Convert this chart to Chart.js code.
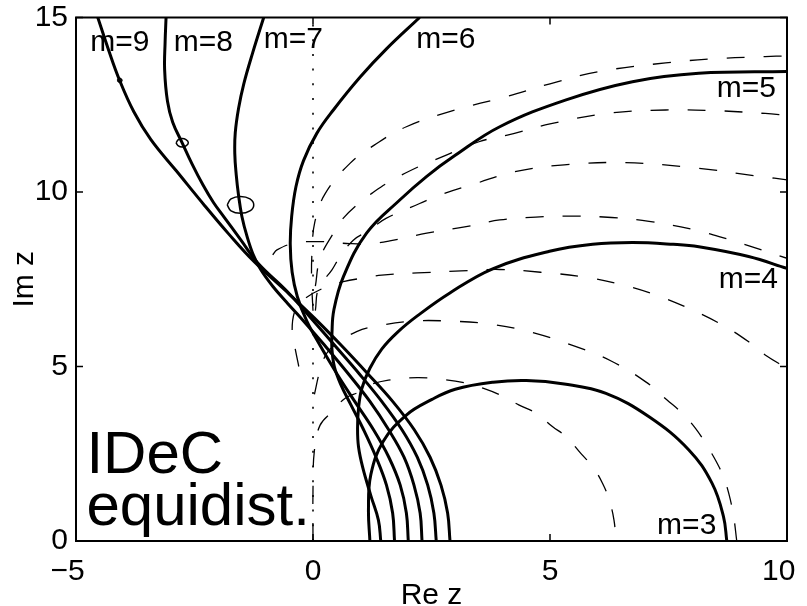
<!DOCTYPE html>
<html>
<head>
<meta charset="utf-8">
<title>IDeC equidist.</title>
<script src="https://cdn.jsdelivr.net/npm/chart.js@4.4.0/dist/chart.umd.min.js"></script>
<style>
  html, body { margin: 0; padding: 0; background: #fff; }
  #wrap { width: 807px; height: 606px; }
</style>
</head>
<body>
<div id="wrap"><canvas id="idecChart" width="807" height="606"></canvas></div>
<script>
// tick values of both axes
const xTicks = [-5, 0, 5, 10];
const yTicks = [0, 5, 10, 15];

// solid boundaries, [Re z, Im z]
const m3 = [[1.20,0],[1.17,0.9],[1.22,1.9],[1.48,2.85],[1.97,3.61],[2.5,4.05],[3.0,4.35],[3.8,4.55],[4.5,4.6],[5.3,4.5],[6.18,4.23],[7.09,3.56],[7.93,2.61],[8.42,1.65],[8.66,0.70],[8.73,0]];
const m4 = [[1.43,0],[1.38,0.6],[1.22,1.3],[1.05,2.1],[0.96,2.7],[0.94,3.23],[0.96,3.8],[1.03,4.37],[1.2,4.95],[1.45,5.5],[1.78,5.98],[2.2,6.45],[2.88,7.1],[3.79,7.8],[4.99,8.3],[5.9,8.5],[6.74,8.55],[7.6,8.5],[8.14,8.43],[9.19,8.15],[10,7.81]];
const m5 = [[1.72,0],[1.68,0.8],[1.55,1.6],[1.33,2.4],[1.07,3.18],[0.8,3.9],[0.58,4.5],[0.45,5.0],[0.40,5.5],[0.40,5.95],[0.44,6.62],[0.64,7.57],[1.13,8.82],[1.83,9.77],[2.4,10.45],[3.0,11.05],[3.94,11.87],[5.34,12.64],[6.74,13.16],[8.14,13.4],[10,13.45]];
const m6 = [[2.01,0],[1.97,0.8],[1.84,1.6],[1.6,2.4],[1.28,3.18],[0.88,4.0],[0.5,4.8],[0.15,5.6],[-0.13,6.3],[-0.33,7.0],[-0.44,7.7],[-0.48,8.5],[-0.45,9.3],[-0.36,10.15],[-0.2,10.9],[0.08,11.68],[0.43,12.35],[1.0,13.3],[1.55,14.1],[2.25,15]];
const m7 = [[2.30,0],[2.26,0.8],[2.13,1.6],[1.92,2.4],[1.60,3.18],[1.2,4.0],[0.74,4.8],[0.25,5.6],[-0.26,6.4],[-0.53,6.8],[-0.85,7.3],[-1.1,7.77],[-1.26,8.2],[-1.39,8.72],[-1.5,9.3],[-1.57,9.9],[-1.62,10.5],[-1.65,11.1],[-1.64,11.7],[-1.57,12.4],[-1.46,13.1],[-1.27,14.0],[-1.04,15]];
const m8 = [[2.60,0],[2.55,0.8],[2.42,1.6],[2.20,2.4],[1.88,3.18],[1.45,4.0],[0.97,4.8],[0.46,5.6],[-0.05,6.4],[-0.58,7.2],[-1.16,7.96],[-1.52,8.62],[-1.88,9.29],[-2.1,9.7],[-2.32,10.2],[-2.55,10.8],[-2.76,11.41],[-2.96,12.0],[-3.07,12.6],[-3.13,13.5],[-3.12,14.3],[-3.10,15]];
const m9 = [[2.89,0],[2.84,0.8],[2.70,1.6],[2.47,2.4],[2.14,3.18],[1.68,4.0],[1.15,4.8],[0.6,5.6],[0.02,6.4],[-0.6,7.2],[-1.24,8.0],[-1.78,8.8],[-2.28,9.6],[-2.88,10.6],[-3.42,11.5],[-3.78,12.3],[-4.08,13.2],[-4.32,14.1],[-4.54,15]];

// small loops sitting on m=7, m=8 and m=9
const loop7 = [[-1.81,9.63],[-1.73,9.8],[-1.53,9.87],[-1.33,9.8],[-1.25,9.63],[-1.33,9.46],[-1.53,9.39],[-1.73,9.46],[-1.81,9.63]];
const loop8 = [[-2.89,11.41],[-2.84,11.5],[-2.76,11.53],[-2.68,11.5],[-2.63,11.41],[-2.68,11.32],[-2.76,11.29],[-2.84,11.32],[-2.89,11.41]];
const loop9 = [[-4.13,13.2],[-4.08,13.26],[-4.03,13.2],[-4.08,13.14],[-4.13,13.2]];

// dashed curves
const da = [[0.0,6.6],[-0.03,7.5],[-0.02,8.3],[0.04,9.15],[0.26,9.96],[0.78,10.82],[1.3,11.35],[1.97,11.87],[3.0,12.35],[4.07,12.73],[5.0,13.1],[6.04,13.45],[7.44,13.7],[8.5,13.82],[9.54,13.88],[10,13.9]];
const db = [[0.05,7.3],[0.15,8.1],[0.43,8.82],[0.64,9.25],[0.96,9.67],[1.24,9.96],[1.62,10.3],[2.22,10.72],[2.71,11.0],[3.5,11.44],[4.1,11.63],[5.0,11.95],[6.2,12.25],[7.44,12.35],[8.5,12.33],[9.54,12.25],[10,12.2]];
const dc = [[0.05,6.6],[0.12,7.25],[0.40,7.77],[0.57,8.15],[0.85,8.62],[1.13,8.86],[1.55,9.25],[2.25,9.67],[2.67,9.91],[3.45,10.25],[4.25,10.58],[5.3,10.78],[6.58,10.84],[8.0,10.7],[9.47,10.44],[10,10.35]];
const dd = [[-0.85,8.2],[-0.76,8.34],[-0.41,8.53],[0.1,8.58],[0.78,8.52],[1.2,8.52],[1.62,8.6],[2.40,8.82],[3.2,9.0],[3.94,9.2],[4.7,9.28],[5.47,9.31],[6.3,9.27],[7.09,9.16],[8.0,8.93],[8.70,8.67],[9.47,8.34],[10,8.1]];
const de = [[-0.3,5.0],[-0.37,5.47],[-0.44,6.0],[-0.38,6.6],[-0.2,6.92],[0.29,7.29],[0.64,7.43],[1.03,7.53],[1.45,7.62],[2.2,7.68],[3.0,7.73],[3.94,7.78],[4.8,7.7],[5.69,7.57],[6.5,7.35],[7.23,7.05],[8.0,6.62],[8.70,6.14],[9.2,5.7],[9.54,5.33],[10,4.95]];
const df = [[0.03,4.2],[0.15,4.9],[0.29,5.38],[0.50,5.66],[0.92,6.0],[1.27,6.14],[2.1,6.3],[2.9,6.3],[3.7,6.22],[4.5,6.02],[5.55,5.57],[6.3,5.15],[7.02,4.56],[7.47,4.04],[7.79,3.66],[8.07,3.23],[8.28,2.8],[8.49,2.32],[8.66,1.84],[8.77,1.37],[8.87,0.74],[8.94,0]];
const dg = [[0.0,0],[0.0,1.5],[0.03,2.6],[0.15,3.32],[0.40,3.70],[0.68,4.09],[0.99,4.28],[1.2,4.47],[1.59,4.61],[2.2,4.68],[2.8,4.62],[3.2,4.53],[3.6,4.37],[3.95,4.18],[4.34,3.9],[4.71,3.66],[5.05,3.28],[5.34,2.99],[5.65,2.51],[5.90,2.13],[6.11,1.65],[6.25,1.17],[6.35,0.6],[6.39,0]];

// imaginary axis
const imagAxis = [[0,0],[0,15]];

// curve labels and their anchors (left end, baseline)
const curveLabels = ["m=9", "m=8", "m=7", "m=6", "m=5", "m=4", "m=3"];
const labelAnchors = [[-4.70,14.05],[-2.94,14.05],[-1.04,14.12],[2.18,14.12],[8.52,12.71],[8.56,7.24],[7.26,0.2]];
const noteLines = ["IDeC", "equidist."];
const noteAnchors = [[-4.78,1.95],[-4.78,0.46]];

const toPts = arr => arr.map(p => ({ x: p[0], y: p[1] }));
const font = "'Liberation Sans', Arial, Helvetica, sans-serif";

function solid(arr) {
    return { data: toPts(arr), showLine: true, borderColor: "#000", borderWidth: 3, pointRadius: 0, tension: 0.4, fill: false };
}
function dashed(arr) {
    return { data: toPts(arr), showLine: true, borderColor: "#000", borderWidth: 1.3, borderDash: [18, 19], pointRadius: 0, tension: 0.4, fill: false };
}
function thin(arr) {
    return { data: toPts(arr), showLine: true, borderColor: "#000", borderWidth: 1.5, pointRadius: 0, tension: 0.4, fill: false };
}

// frame, inward ticks and the text on the plot
const framePlugin = {
    id: "frame",
    afterDatasetsDraw(chart) {
        const { ctx, chartArea: a, scales: { x, y } } = chart;
        ctx.save();
        ctx.strokeStyle = "#000";
        ctx.lineWidth = 2;
        ctx.strokeRect(a.left, a.top, a.right - a.left, a.bottom - a.top);
        ctx.lineWidth = 1.5;
        ctx.beginPath();
        xTicks.forEach(v => {
            const px = x.getPixelForValue(v);
            ctx.moveTo(px, a.bottom); ctx.lineTo(px, a.bottom - 7);
            ctx.moveTo(px, a.top); ctx.lineTo(px, a.top + 7);
        });
        yTicks.forEach(v => {
            const py = y.getPixelForValue(v);
            ctx.moveTo(a.left, py); ctx.lineTo(a.left + 7, py);
            ctx.moveTo(a.right, py); ctx.lineTo(a.right - 7, py);
        });
        ctx.stroke();

        ctx.fillStyle = "#000";
        ctx.textAlign = "left";
        ctx.textBaseline = "alphabetic";
        ctx.font = "30px " + font;
        curveLabels.forEach((t, i) => {
            ctx.fillText(t, x.getPixelForValue(labelAnchors[i][0]), y.getPixelForValue(labelAnchors[i][1]));
        });
        ctx.font = "60px " + font;
        noteLines.forEach((t, i) => {
            ctx.fillText(t, x.getPixelForValue(noteAnchors[i][0]), y.getPixelForValue(noteAnchors[i][1]));
        });
        ctx.restore();
    }
};

const datasets = [
    dashed(da), dashed(db), dashed(dc), dashed(dd), dashed(de), dashed(df), dashed(dg),
    solid(m3), solid(m4), solid(m5), solid(m6), solid(m7), solid(m8), solid(m9),
    thin(loop7), thin(loop8), thin(loop9),
    { data: toPts(imagAxis), showLine: true, borderColor: "#000", borderWidth: 1.6, borderDash: [2, 12.7], pointRadius: 0, fill: false }
];

new Chart(document.getElementById("idecChart").getContext("2d"), {
    type: "scatter",
    data: { datasets: datasets },
    options: {
        responsive: false,
        animation: false,
        layout: { padding: { left: 0, right: 20, top: 17.5, bottom: 0 } },
        plugins: { legend: { display: false }, tooltip: { enabled: false } },
        scales: {
            x: {
                type: "linear", min: -5, max: 10,
                afterBuildTicks: s => { s.ticks = xTicks.map(v => ({ value: v })); },
                // fixed box: no extra room asked for the end labels
                afterFit: s => { s.height = 65; s.paddingLeft = 0; s.paddingRight = 0; },
                grid: { display: false, drawTicks: false },
                border: { display: false },
                ticks: {
                    padding: 12.5, color: "#000", font: { family: font, size: 30 },
                    // two-character labels sit a little left of their tick in the original
                    callback: v => {
                        const t = v < 0 ? "\u2212" + Math.abs(v) : String(v);
                        return t.length > 1 ? t + "\u2007" : t;
                    }
                },
                title: { display: true, text: "Re z", color: "#000", font: { family: font, size: 30, lineHeight: 0.6 }, padding: { top: 0, bottom: 1 } }
            },
            y: {
                type: "linear", min: 0, max: 15,
                afterBuildTicks: s => { s.ticks = yTicks.map(v => ({ value: v })); },
                afterFit: s => { s.width = 76; s.paddingTop = 0; s.paddingBottom = 0; },
                grid: { display: false, drawTicks: false },
                border: { display: false },
                ticks: { padding: 8, color: "#000", font: { family: font, size: 30 } },
                title: { display: true, text: "Im z", color: "#000", font: { family: font, size: 30, lineHeight: 0.6 }, padding: { top: 16, bottom: 0 } }
            }
        }
    },
    plugins: [framePlugin]
});
</script>
</body>
</html>
